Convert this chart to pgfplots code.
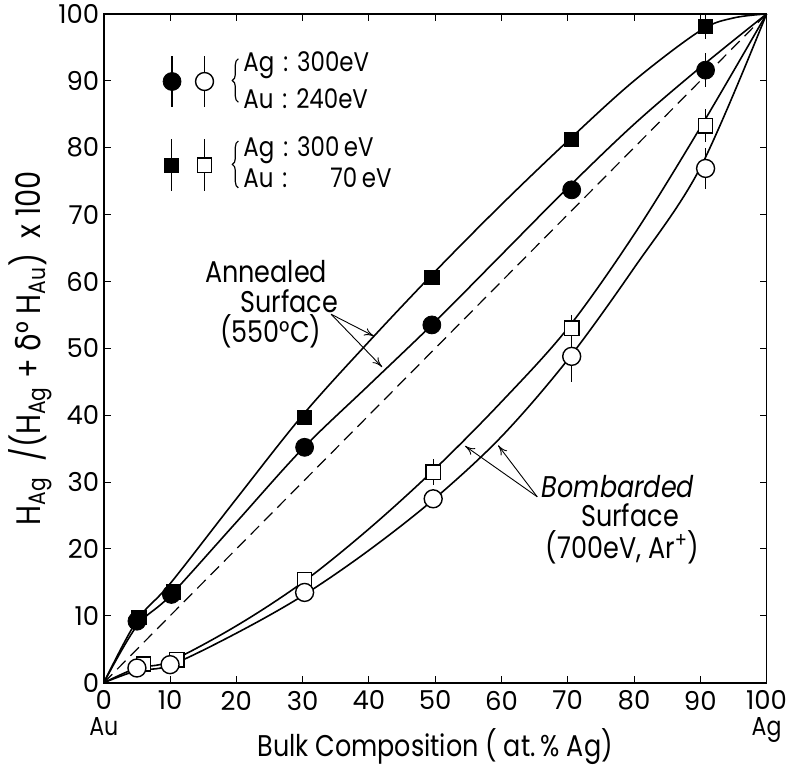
\documentclass[border=0pt]{standalone}
\usepackage{fontspec}
\setmainfont{Poppins}
\newfontfamily\nar[FakeStretch=0.85]{Poppins}
\newfontfamily\grk[FakeStretch=0.85]{DejaVu Sans}
\usepackage{pgfplots}
\pgfplotsset{compat=1.18}
\usetikzlibrary{arrows.meta,decorations.pathreplacing}

\begin{document}
\begin{tikzpicture}[>={To[length=5pt,width=4pt]}]
\begin{axis}[
 scale only axis, width=332pt, height=335pt,
 xmin=0,xmax=100,ymin=0,ymax=100,
 xtick={0,10,...,100}, ytick={0,10,...,100},
 xticklabels={{\shortstack{0\\[1pt]{\nar Au}}},10,20,30,40,50,60,70,80,90,{\shortstack{100\\[1pt]{\nar Ag}}}},
 tick align=inside, major tick length=3.5pt,
 every tick/.style={black, line width=0.5pt},
 axis line style={line width=0.9pt},
 /pgf/number format/assume math mode=true,
 ticklabel style={font=\fontsize{13}{14}\selectfont, inner sep=1.5pt},
 xticklabel style={yshift=-2.4pt, anchor=north},
 yticklabel style={xshift=-0.6pt},
 label style={font=\nar\fontsize{15}{17}\selectfont, inner sep=0pt},
 xlabel={Bulk Composition ( at.\,\% Ag)},
 xlabel style={at={(axis description cs:0.5,-0.111)},anchor=base},
 ylabel={H\textsubscript{Ag}\ \ /(H\textsubscript{Ag}\ +\ {\grk δ}°\ H\textsubscript{Au})\ \ x\ 100},
 ylabel style={at={(axis description cs:-0.096,0.5)},anchor=base, font=\nar\fontsize{17}{19}\selectfont},
 clip=false,
 error bars/error bar style={line width=0.6pt},
]
% bounding box of the whole figure
\path (axis cs:-15.66,-12.54) rectangle (axis cs:103.31,102.09);
% curves
\addplot[smooth, tension=0.55, line width=0.8pt] coordinates {(0,0)(5,9.3)(10,14.8)(20,27.5)(30,40)(40,51)(50,61.5)(60,71.5)(70,81)(80,90)(90,97.5)(95,99.4)(100,100)};
\addplot[smooth, tension=0.55, line width=0.8pt] coordinates {(0,0)(5,8.5)(10,13)(20,24)(30,35)(40,44.5)(50,54)(60,64)(70,74)(80,83.5)(90,92)(100,100)};
\addplot[dash pattern=on 6pt off 3.5pt, line width=0.6pt] coordinates {(0,0)(100,100)};
\addplot[smooth, tension=0.55, line width=0.8pt] coordinates {(0,0)(5,2.2)(10,3.2)(20,8.5)(30,15)(40,23)(50,32)(60,42)(70,53)(80,67)(90,83)(100,100)};
\addplot[smooth, tension=0.55, line width=0.8pt] coordinates {(0,0)(5,1.8)(10,2.6)(20,7.4)(30,13)(40,19.8)(50,27.6)(60,36.8)(70,48.3)(80,62)(90,77)(100,100)};
% markers
\addplot[only marks, mark=square*, mark size=3.6pt, mark options={fill=black,draw=black}, error bars/.cd, y dir=both, y explicit, error mark=none]
 coordinates {(5.3,9.8)+-(0,0) (10.5,13.6)+-(0,0) (30.3,39.7)+-(0,0) (49.5,60.6)+-(0,0) (70.6,81.2)+-(0,0) (90.8,98.1)+-(0,1.8) (10.2,77.4)+-(0,3.9)};
\addplot[only marks, mark=*, mark size=4.5pt, mark options={fill=black,draw=black}, error bars/.cd, y dir=both, y explicit, error mark=none]
 coordinates {(5,9.2)+-(0,0) (10.2,13.2)+-(0,0) (30.3,35.2)+-(0,0) (49.5,53.5)+-(0,0) (70.6,73.7)+-(0,0) (90.8,91.6)+-(0,2.5) (10.3,89.9)+-(0,3.8)};
\addplot[only marks, mark=square*, mark size=3.6pt, mark options={fill=white,draw=black,line width=0.7pt}, error bars/.cd, y dir=both, y explicit, error mark=none]
 coordinates {(6,2.8)+-(0,0) (11,3.4)+-(0,0) (30.3,15.4)+-(0,0) (49.7,31.5)+-(0,2) (70.6,53)+-(0,2) (90.8,83.3)+-(0,2.5) (15.2,77.4)+-(0,3.9)};
\addplot[only marks, mark=*, mark size=4.5pt, mark options={fill=white,draw=black,line width=0.7pt}, error bars/.cd, y dir=both, y explicit, error mark=none]
 coordinates {(5,2.2)+-(0,0) (10,2.7)+-(0,0) (30.3,13.5)+-(0,0) (49.7,27.5)+-(0,0) (70.6,48.8)+-(0,3.8) (90.8,76.9)+-(0,3) (15.2,89.9)+-(0,3.8)};
% legend text
\draw[line width=0.6pt, decorate, decoration={brace, amplitude=3pt}] (axis cs:20.3,86.8) -- (axis cs:20.3,93.3);
\draw[line width=0.6pt, decorate, decoration={brace, amplitude=3pt}] (axis cs:20.3,74.0) -- (axis cs:20.3,81.0);
\begin{scope}[every node/.style={font=\nar\fontsize{13.5}{15}\selectfont, anchor=base west, inner sep=0pt}]
\node at (axis cs:21,91.4) {Ag\,\,:\,\,300eV};
\node at (axis cs:21,85.9) {Au\,\,:\,\,240eV};
\node at (axis cs:21,78.7) {Ag\,\,:\,\,300\,eV};
\node at (axis cs:21,74.0) {Au\,\,:\hspace{1.6em}70\,eV};
\end{scope}
% annotations
\begin{scope}[every node/.style={font=\nar\fontsize{15}{17}\selectfont, anchor=base, inner sep=0pt}]
\node at (axis cs:24.5,59.8) {Annealed};
\node at (axis cs:28.0,55.4) {Surface};
\node at (axis cs:25.2,50.9) {(550°C)};
\node at (axis cs:77.6,27.7) {\textit{Bombarded}};
\node at (axis cs:79.4,23.3) {Surface};
\node at (axis cs:78.3,18.6) {(700eV, Ar\textsuperscript{+})};
\end{scope}
\draw[->, line width=0.45pt] (axis cs:34.3,55.1) -- (axis cs:40.8,51.8);
\draw[->, line width=0.45pt] (axis cs:34.3,55.1) -- (axis cs:42.0,47.2);
\draw[->, line width=0.45pt] (axis cs:65.4,27.8) -- (axis cs:54.5,35.4);
\draw[->, line width=0.45pt] (axis cs:65.4,27.8) -- (axis cs:59.5,35.5);
\end{axis}
\end{tikzpicture}
\end{document}
